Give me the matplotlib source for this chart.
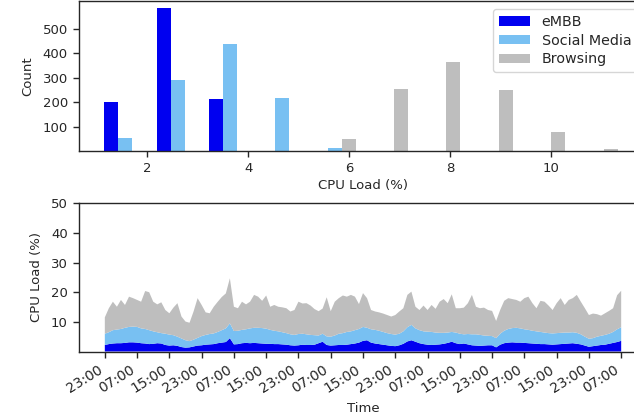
import numpy as np
import pandas as pd
import matplotlib
matplotlib.use("Agg")
import matplotlib.pyplot as plt
import matplotlib.dates as mdates

# ---- histogram of CPU load per service ----
bin_edges = [1.045, 2.083, 3.120, 4.158, 5.196, 6.233, 7.271, 8.308, 9.346, 10.384, 11.421]
embb_counts = [200, 584, 214, 0, 0, 0, 0, 0, 0, 0]
social_counts = [55, 289, 437, 218, 12, 0, 0, 0, 0, 0]
browsing_counts = [0, 0, 0, 0, 50, 254, 365, 249, 78, 10]
services = ["eMBB", "Social Media", "Browsing"]
colors = ["#0000f0", "#78c0f2", "#bebebe"]

# ---- hourly CPU load (stacked levels, %) ----
embb_level = [
    2.2, 2.5, 2.7, 2.8, 2.8, 2.9, 3.1, 3.1, 3.0, 2.8, 2.7, 2.5, 2.6, 2.8, 2.7, 2.2,
    2.0, 2.1, 1.9, 1.5, 1.3, 1.4, 1.7, 2.0, 2.1, 2.3, 2.4, 2.5, 2.8, 3.0, 3.2, 4.5,
    2.4, 2.5, 2.8, 2.9, 2.8, 2.9, 2.8, 2.7, 2.6, 2.6, 2.5, 2.5, 2.4, 2.3, 2.1, 2.0,
    2.1, 2.3, 2.2, 2.2, 2.3, 2.8, 3.3, 2.2, 2.0, 2.1, 2.2, 2.2, 2.3, 2.5, 2.7, 3.0,
    3.6, 3.8, 3.0, 2.7, 2.5, 2.3, 2.1, 1.9, 1.8, 2.1, 2.6, 3.4, 3.8, 3.3, 2.8, 2.5,
    2.3, 2.2, 2.3, 2.4, 2.6, 2.9, 3.3, 2.8, 2.5, 2.7, 2.4, 2.1, 2.0, 1.9, 2.0, 2.1,
    2.1, 1.4, 2.3, 2.8, 3.0, 3.1, 3.0, 3.0, 2.9, 2.8, 2.7, 2.6, 2.5, 2.5, 2.4, 2.3,
    2.4, 2.5, 2.6, 2.7, 2.8, 2.6, 2.4, 2.0, 1.6, 1.8, 2.0, 2.2, 2.3, 2.6, 2.9, 3.2,
    3.6,
]
social_level = [
    6.0, 6.5, 7.2, 7.4, 7.6, 8.0, 8.3, 8.4, 8.3, 7.8, 7.6, 7.2, 6.8, 6.5, 6.2, 6.0,
    5.7, 5.5, 5.0, 4.4, 3.8, 3.5, 4.0, 4.6, 5.2, 5.6, 5.9, 6.1, 6.6, 7.2, 7.8, 9.5,
    6.9, 7.0, 7.3, 7.5, 7.8, 8.0, 8.0, 7.9, 7.7, 7.3, 7.0, 6.8, 6.5, 6.2, 5.8, 5.6,
    5.9, 6.0, 5.8, 5.6, 5.5, 5.4, 6.0, 5.1, 5.0, 5.4, 6.0, 6.2, 6.6, 6.8, 7.2, 7.6,
    8.3, 8.0, 7.5, 7.3, 7.0, 6.6, 6.2, 5.9, 5.7, 6.0, 6.8, 8.2, 9.0, 7.8, 7.2, 6.8,
    6.7, 6.6, 6.4, 6.3, 6.3, 6.4, 6.6, 6.4, 6.0, 5.8, 5.9, 5.8, 5.8, 5.6, 5.4, 5.3,
    5.2, 4.5, 6.0, 7.0, 7.6, 7.9, 8.0, 7.8, 7.5, 7.3, 7.0, 6.8, 6.6, 6.4, 6.2, 6.1,
    6.2, 6.3, 6.4, 6.4, 6.5, 6.3, 5.8, 5.0, 4.3, 4.5, 5.0, 5.3, 5.6, 6.0, 6.6, 7.5,
    8.2,
]
total_level = [
    11.5, 14.6, 16.8, 15.1, 17.4, 15.7, 18.5, 18.0, 17.4, 16.8, 20.4, 20.0, 16.8, 15.9, 16.6, 14.0,
    12.9, 14.8, 16.3, 11.8, 10.1, 9.7, 13.5, 18.0, 15.7, 13.2, 12.9, 15.1, 16.8, 18.4, 19.6, 24.7,
    15.1, 14.6, 16.8, 15.9, 16.8, 19.1, 18.5, 17.1, 18.9, 15.1, 15.7, 15.1, 14.9, 14.6, 13.5, 14.0,
    16.8, 16.2, 16.3, 15.5, 14.3, 13.6, 14.5, 18.3, 13.6, 16.8, 18.0, 18.9, 18.5, 19.1, 18.5, 16.0,
    19.7, 18.0, 14.0, 13.5, 13.2, 12.8, 12.3, 11.8, 12.3, 13.5, 14.6, 19.1, 20.2, 15.1, 14.0, 15.5,
    14.0, 15.7, 14.4, 16.8, 17.7, 16.3, 19.3, 14.6, 14.6, 14.8, 16.3, 19.1, 15.1, 14.6, 14.8, 14.0,
    13.7, 10.3, 14.0, 17.1, 18.0, 17.7, 17.4, 16.8, 18.0, 18.5, 16.3, 14.6, 17.1, 16.8, 15.5, 14.0,
    16.3, 18.0, 15.7, 17.4, 18.0, 19.1, 16.8, 14.6, 12.3, 12.8, 12.6, 12.1, 12.9, 13.7, 14.6, 19.0,
    20.5,
]
start_time = "2019-03-04 23:00"

ink = "#262626"
plt.rcParams.update({
    "font.family": "DejaVu Sans",
    "text.color": ink,
    "axes.labelcolor": ink,
    "xtick.color": ink,
    "ytick.color": ink,
    "axes.edgecolor": ink,
    "axes.linewidth": 1.0,
    "xtick.major.size": 4.5,
    "ytick.major.size": 4.5,
    "xtick.major.width": 1.0,
    "ytick.major.width": 1.0,
    "xtick.labelsize": 9.5,
    "ytick.labelsize": 9.5,
    "axes.labelsize": 9.5,
})

W, H = 634, 417
fig = plt.figure(figsize=(W / 100, H / 100), dpi=100)

def frame(left, top, right, bottom):
    return [left / W, 1 - bottom / H, (right - left) / W, (bottom - top) / H]

# ---- top: grouped histogram ----
ax1 = fig.add_axes(frame(79, 1, 647, 151))
centers = [(a + b) / 2 for a, b in zip(bin_edges[:-1], bin_edges[1:])]
ax1.hist([centers] * 3, bins=bin_edges,
         weights=[embb_counts, social_counts, browsing_counts],
         color=colors, label=services)
ax1.set_xlim(0.65, 11.9)
ax1.set_ylim(0, 613)
ax1.set_yticks([100, 200, 300, 400, 500])
ax1.set_xlabel("CPU Load (%)", labelpad=3)
ax1.set_ylabel("Count", labelpad=6)
ax1.legend(loc="upper left", bbox_to_anchor=(493 / W, 1 - 9.3 / H),
           bbox_transform=fig.transFigure, borderaxespad=0,
           fontsize=10.3, handlelength=2.2, handleheight=0.6,
           labelspacing=0.33, edgecolor="0.8", fancybox=True)

# ---- bottom: stacked hourly load ----
ax2 = fig.add_axes(frame(79, 203.3, 647, 351.5))
t = pd.date_range(start_time, periods=len(total_level), freq="h")
embb = np.array(embb_level)
social = np.array(social_level) - embb
browsing = np.array(total_level) - np.array(social_level)
ax2.stackplot(t, embb, social, browsing, colors=colors, linewidth=0)
ax2.set_ylim(0, 50)
ax2.set_yticks([10, 20, 30, 40, 50])
ax2.xaxis.set_major_locator(mdates.HourLocator(byhour=[7, 15, 23]))
ax2.xaxis.set_major_formatter(mdates.DateFormatter("%H:%M"))
ax2.tick_params(axis="x", labelsize=10)
for lbl in ax2.get_xticklabels():
    lbl.set_rotation(32)
    lbl.set_ha("right")
ax2.set_xlabel("Time", labelpad=5)
ax2.set_ylabel("CPU Load (%)", labelpad=6)

fig.savefig("out.png", dpi=100)
